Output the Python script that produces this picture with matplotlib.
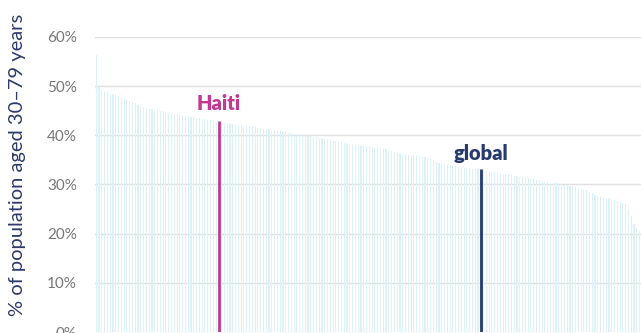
import numpy as np
import matplotlib
matplotlib.use("Agg")
import matplotlib.pyplot as plt

plt.rcParams['font.family'] = ['Lato', 'DejaVu Sans']

# share of population aged 30-79 (%), countries sorted descending
values = [
    56.3, 49.8, 49.2, 49.0, 48.8, 48.5, 48.4, 48.3, 48.0, 47.8,
    47.5, 47.2, 46.9, 46.7, 46.5, 46.2, 46.0, 45.8, 45.6, 45.4,
    45.3, 45.2, 45.1, 45.0, 44.9, 44.8, 44.6, 44.5, 44.4, 44.3,
    44.2, 44.1, 44.0, 43.9, 43.8, 43.7, 43.6, 43.5, 43.4, 43.3,
    43.2, 43.1, 43.0, 43.0, 42.9, 42.8, 42.6, 42.5, 42.4, 42.3,
    42.2, 42.1, 42.0, 41.9, 41.9, 41.8, 41.7, 41.6, 41.5, 41.4,
    41.3, 41.3, 41.2, 41.1, 41.0, 40.9, 40.8, 40.7, 40.6, 40.5,
    40.4, 40.3, 40.2, 40.1, 40.0, 39.9, 39.8, 39.8, 39.7, 39.6,
    39.5, 39.4, 39.3, 39.2, 39.1, 38.9, 38.8, 38.7, 38.6, 38.4,
    38.3, 38.2, 38.1, 38.0, 38.0, 37.9, 37.9, 37.8, 37.8, 37.7,
    37.6, 37.5, 37.4, 37.3, 37.2, 37.0, 36.8, 36.6, 36.4, 36.2,
    36.1, 36.1, 36.0, 36.0, 36.0, 35.9, 35.8, 35.6, 35.5, 35.3,
    35.1, 34.9, 34.6, 34.4, 34.2, 34.1, 34.0, 33.9, 33.8, 33.7,
    33.6, 33.5, 33.4, 33.3, 33.3, 33.2, 33.2, 33.1, 33.1, 33.0,
    32.9, 32.8, 32.6, 32.5, 32.4, 32.3, 32.2, 32.1, 32.0, 31.9,
    31.8, 31.7, 31.6, 31.5, 31.4, 31.3, 31.2, 31.1, 31.0, 30.9,
    30.7, 30.6, 30.5, 30.4, 30.3, 30.2, 30.1, 30.0, 29.9, 29.8,
    29.7, 29.6, 29.5, 29.3, 29.2, 29.0, 28.8, 28.5, 28.2, 27.9,
    27.6, 27.5, 27.4, 27.3, 27.2, 27.0, 26.9, 26.7, 26.5, 26.3,
    26.0, 24.8, 23.6, 22.0, 21.2, 20.5,
]
haiti_idx = 44
haiti_value = 42.9
global_idx = 138
global_value = 33.1
yticks = [0, 10, 20, 30, 40, 50, 60]

fig = plt.figure(figsize=(6.41, 3.33), dpi=100)
ax = fig.add_axes([0.148, 0.003, 0.852, 0.886])

x = np.arange(len(values))
ax.bar(x, values, width=0.4, color='#dcf2fa', linewidth=0, zorder=2)

ax.vlines(haiti_idx, 0, haiti_value, color='#c2398f', linewidth=2, zorder=3)
ax.vlines(global_idx, 0, global_value, color='#263a6e', linewidth=2, zorder=3)
ax.text(haiti_idx, 45.1, 'Haiti', color='#c2398f', fontsize=14.5, fontweight='heavy',
        ha='center', va='baseline')
ax.text(global_idx, 35.0, 'global', color='#263a6e', fontsize=14.5, fontweight='heavy',
        ha='center', va='baseline')

ax.set_xlim(-0.5, len(values) - 0.5)
ax.set_ylim(0, 60)
ax.set_yticks(yticks)
ax.set_yticklabels([f'{t}%' for t in yticks])
ax.tick_params(axis='y', length=0, pad=13, labelsize=11, labelcolor='#777777')
ax.set_xticks([])
ax.grid(axis='y', color='#e0e0e0', linewidth=1, zorder=1)
ax.set_axisbelow(True)
for s in ax.spines.values():
    s.set_visible(False)

fig.text(0.027, 0.505, '% of population aged 30\u201379 years', rotation=90,
         ha='center', va='center', fontsize=14.5, color='#2d3a6b')

fig.savefig('out.png', dpi=100, facecolor='white')
